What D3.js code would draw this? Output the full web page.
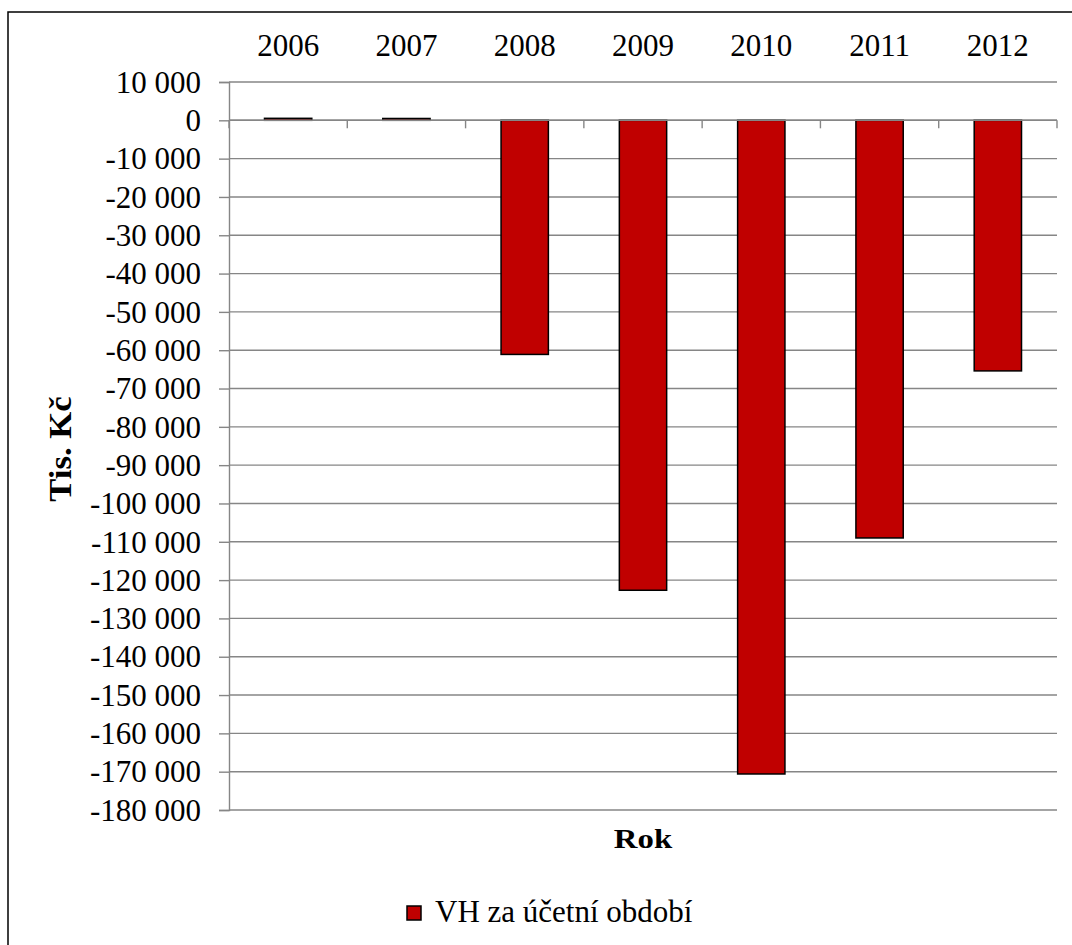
<!DOCTYPE html>
<html>
<head>
<meta charset="utf-8">
<script src="https://cdn.jsdelivr.net/npm/d3@7"></script>
<style>
  html, body { margin: 0; padding: 0; background: #fff; overflow: hidden; }
  svg { display: block; }
  svg text { font-family: "Liberation Serif", "Times New Roman", "DejaVu Serif", serif; fill: #000; }
</style>
</head>
<body>
<svg id="chart" width="1072" height="945"></svg>
<script>
// ---- data ----
const years = ["2006", "2007", "2008", "2009", "2010", "2011", "2012"];
const values = [520, 480, -61100, -122650, -170600, -109000, -65400];
const seriesName = "VH za účetní období";
const yTicks = d3.range(-180000, 10001, 10000);
const xTitle = "Rok";
const yTitle = "Tis. Kč";

// ---- layout ----
const W = 1072, H = 945;
const plot = { left: 229, right: 1057, top: 82, bottom: 810 };
const gridColor = "#868686";
const barColor = "#C00000";
const fontSize = 31;
const serif = '"Liberation Serif", "Times New Roman", "DejaVu Serif", serif';

const svg = d3.select("#chart");

// outer frame (right/bottom edges fall outside the picture)
svg.append("rect")
  .attr("x", 8).attr("y", 12)
  .attr("width", W + 20).attr("height", H + 20)
  .attr("fill", "#fff").attr("stroke", "#000").attr("stroke-width", 1.5);

const x = d3.scaleBand().domain(years).range([plot.left, plot.right]).padding(0);
const y = d3.scaleLinear().domain([-180000, 10000]).range([plot.bottom, plot.top]);

const loc = d3.formatLocale({ decimal: ",", thousands: " ", grouping: [3], currency: ["", " Kč"], minus: "-" });
const fmt = loc.format(",d");

// gridlines
svg.append("g").selectAll("line").data(yTicks).join("line")
  .attr("x1", plot.left).attr("x2", plot.right)
  .attr("y1", d => y(d)).attr("y2", d => y(d))
  .attr("stroke", gridColor).attr("stroke-width", 1.4);

// y axis
const yAxis = svg.append("g")
  .attr("transform", `translate(${plot.left},0)`)
  .call(d3.axisLeft(y).tickValues(yTicks).tickFormat(fmt).tickSize(10).tickPadding(18));
yAxis.attr("font-family", null).attr("font-size", null);
yAxis.select(".domain").attr("stroke", gridColor).attr("stroke-width", 1.4);
yAxis.selectAll(".tick line").attr("stroke", gridColor).attr("stroke-width", 1.4);
yAxis.selectAll(".tick text")
  .style("font-family", serif)
  .style("font-size", fontSize + "px")
  .attr("fill", "#000")
  .attr("dy", "0.33em");

// x tick marks on zero line (band boundaries)
const boundaries = years.map(d => x(d)).concat([x(years[years.length - 1]) + x.bandwidth()]);
svg.append("g").selectAll("line").data(boundaries).join("line")
  .attr("x1", d => d).attr("x2", d => d)
  .attr("y1", y(0)).attr("y2", y(0) + 8)
  .attr("stroke", gridColor).attr("stroke-width", 1.4);

// bars
const barW = x.bandwidth() / 2.5;
svg.append("g").selectAll("rect").data(years.map((d, i) => ({ year: d, v: values[i] }))).join("rect")
  .attr("x", d => x(d.year) + (x.bandwidth() - barW) / 2)
  .attr("width", barW)
  .attr("y", d => Math.min(y(d.v), y(0)))
  .attr("height", d => Math.abs(y(d.v) - y(0)))
  .attr("fill", barColor)
  .attr("stroke", "#000").attr("stroke-width", 1.5);

// zero line over bars
svg.append("line")
  .attr("x1", plot.left).attr("x2", plot.right)
  .attr("y1", y(0)).attr("y2", y(0))
  .attr("stroke", gridColor).attr("stroke-width", 1.4);

// category labels at top
svg.append("g").selectAll("text").data(years).join("text")
  .attr("x", d => x(d) + x.bandwidth() / 2)
  .attr("y", 56)
  .attr("text-anchor", "middle")
  .style("font-family", serif)
  .style("font-size", fontSize + "px")
  .text(d => d);

// axis titles
svg.append("text")
  .attr("transform", `translate(${(plot.left + plot.right) / 2}, 848) scale(1.17,1)`)
  .attr("text-anchor", "middle")
  .style("font-family", serif)
  .style("font-size", "28px")
  .style("font-weight", "bold")
  .text(xTitle);

svg.append("text")
  .attr("transform", `translate(71, ${(plot.top + plot.bottom) / 2 + 3}) rotate(-90) scale(1.12,1)`)
  .attr("text-anchor", "middle")
  .style("font-family", serif)
  .style("font-size", "31px")
  .style("font-weight", "bold")
  .text(yTitle);

// legend
const lg = svg.append("g");
lg.append("rect")
  .attr("x", 407).attr("y", 906)
  .attr("width", 14).attr("height", 14)
  .attr("fill", barColor).attr("stroke", "#000").attr("stroke-width", 1.5);
lg.append("text")
  .attr("x", 435).attr("y", 922)
  .style("font-family", serif)
  .style("font-size", fontSize + "px")
  .text(seriesName);
</script>
</body>
</html>
